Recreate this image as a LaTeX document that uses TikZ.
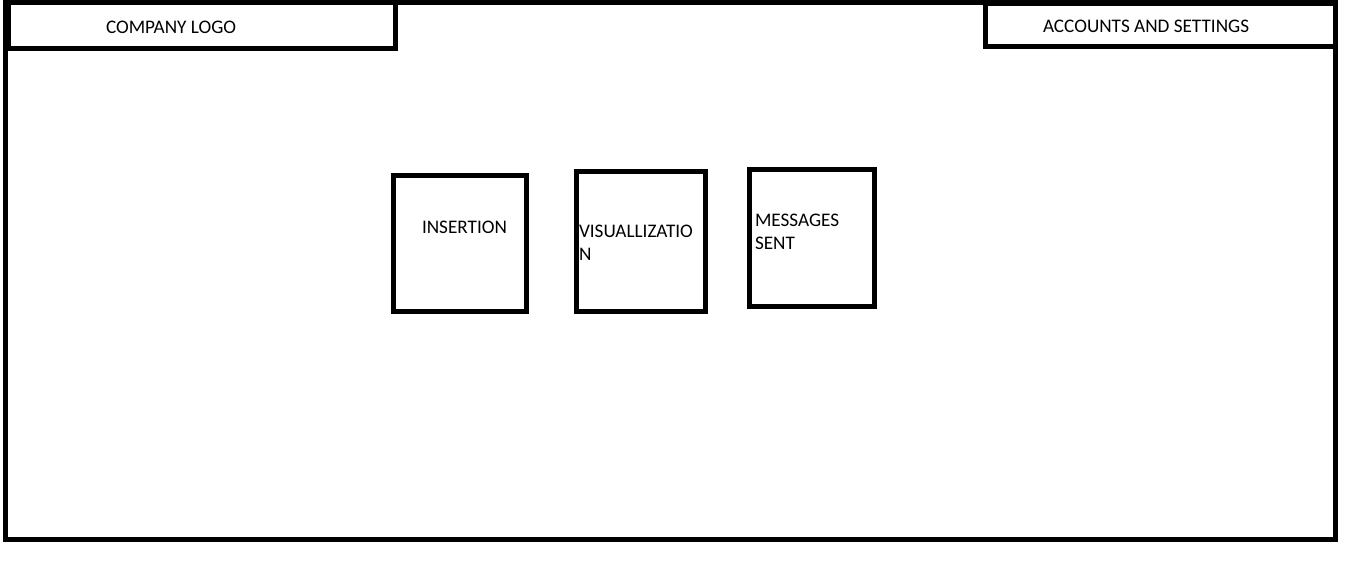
\documentclass[tikz,border=0pt]{standalone}
\usepackage{fontspec}
\setmainfont{Carlito}
\begin{document}
\begin{tikzpicture}[x=1pt,y=-1pt,
  frame/.style={draw=black,line width=5pt,inner sep=0pt,outer sep=0pt,rectangle},
  lbl/.style={inner sep=0pt,outer sep=0pt,font=\fontsize{19.2}{22.8}\selectfont,align=left}]
\useasboundingbox[fill=white] (0,0) rectangle (1360,571);
\node[frame,minimum width=1330pt,minimum height=537pt] (outer) at (670.5,271) {};
\node[frame,minimum width=387pt,minimum height=46pt] (logo) at (202,25.5) {};
\node[frame,minimum width=350pt,minimum height=43pt] (acct) at (1160.5,24.5) {};
\node[frame,minimum width=133pt,minimum height=136pt] (ins) at (459.5,243.5) {};
\node[frame,minimum width=129pt,minimum height=140pt] (vis) at (640.5,241.5) {};
\node[frame,minimum width=125pt,minimum height=137pt] (msg) at (812,238) {};
\node[lbl,anchor=west] (logot) at (106,27) {COMPANY LOGO};
\node[lbl,anchor=west] (acctt) at (1043,26) {ACCOUNTS AND SETTINGS};
\node[lbl,anchor=west] (inst) at (422,227) {INSERTION};
\node[lbl,anchor=north west] (vist) at (579,225) {VISUALLIZATIO\\N};
\node[lbl,anchor=north west] (msgt) at (755,214) {MESSAGES\\SENT};
\end{tikzpicture}
\end{document}
